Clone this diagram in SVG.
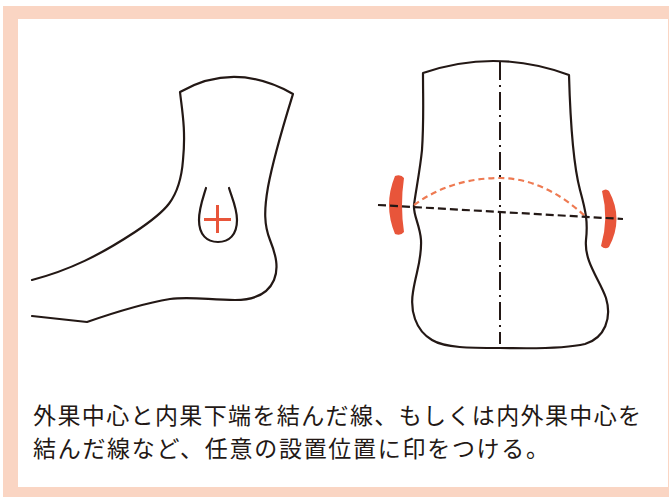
<svg xmlns="http://www.w3.org/2000/svg" width="669" height="497" viewBox="0 0 669 497">
<style>
.ink{fill:none;stroke:#231815;stroke-width:2.2;stroke-linejoin:round;stroke-linecap:round}
.red{fill:#E8553A}
.txt{font-family:"Noto Sans CJK JP","Noto Sans",sans-serif;font-size:23px;fill:#231815}
</style>
<rect x="0" y="0" width="669" height="497" fill="#ffffff"/>
<g id="frame">
<rect x="3" y="6" width="666" height="491" fill="#FAD5C3"/>
<rect x="18" y="19" width="650" height="468" fill="#ffffff"/>
</g>
<g id="side-foot">
<path class="ink" d="M 32 280 C 70 270 100 255 135 232 C 165 212 180 200 183 160 C 186 130 182 110 180 92 Q 235 61 293 94 C 285 120 274 155 268 187 C 264 210 264 225 270 240 C 276 255 279 268 274 280 C 268 294 255 300 235 300 C 210 300 190 296 170 299 C 140 304 110 314 87 322 L 32 316"/>
<path class="ink" d="M 206 188 C 203 198 199 208 199 220 C 199 235 207 242 218 242 C 229 242 237 235 237 220 C 237 208 232 198 229 188"/>
<path d="M 204 219.5 H 231 M 217.5 205 V 233" fill="none" stroke="#E8553A" stroke-width="3"/>
</g>
<g id="front-foot">
<path class="ink" d="M 423 73 Q 496 48 569 75 C 570 110 572 160 580 190 C 586 212 588 222 586 240 C 584 262 600 280 606 298 C 612 318 605 338 585 344 C 560 350 520 348 500 348 C 470 348 445 348 432 340 C 415 330 410 310 413 292 C 416 272 422 260 421 240 C 420 225 413 215 414 205 C 416 190 420 170 422 150 C 424 120 423 100 423 73 Z"/>
</g>
<g id="marks">
<path class="red" d="M 395 176 Q 401 174 404 178 Q 400 205 404 232 Q 401 236 395 234 Q 383 205 395 176 Z"/>
<path class="red" d="M 602 191 Q 606 188 609 191 Q 624 219 609 247 Q 605 250 601 246 Q 609 219 602 191 Z"/>
</g>
<g id="connectors">
<line x1="500" y1="62" x2="500" y2="344" stroke="#231815" stroke-width="2" stroke-dasharray="18 5 2 5"/>
<path d="M 414 205 C 440 186 470 178 500 178 C 530 178 560 192 587 218" fill="none" stroke="#EE7A52" stroke-width="2.2" stroke-dasharray="6 4"/>
<line x1="378" y1="205" x2="623" y2="219" stroke="#231815" stroke-width="2.2" stroke-dasharray="8 4"/>
</g>
<g id="caption">
<text class="txt" x="33" y="423.5" textLength="608" lengthAdjust="spacing">外果中心と内果下端を結んだ線、もしくは内外果中心を</text>
<text class="txt" x="33" y="457" textLength="516" lengthAdjust="spacing">結んだ線など、任意の設置位置に印をつける。</text>
</g>
</svg>
